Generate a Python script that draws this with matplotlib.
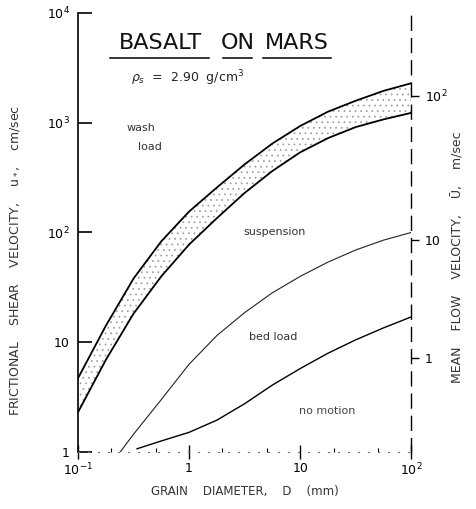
import numpy as np
import matplotlib
matplotlib.use('Agg')
import matplotlib.pyplot as plt

# grain diameter (mm) vs friction velocity (cm/sec)
wash_upper_d = [0.1, 0.178, 0.316, 0.562, 1, 1.78, 3.16, 5.62, 10, 17.8, 31.6, 56.2, 100]
wash_upper_u = [4.7, 14.1, 38, 83, 155, 257, 417, 646, 933, 1260, 1585, 1950, 2290]
wash_lower_d = [0.1, 0.178, 0.316, 0.562, 1, 1.78, 3.16, 5.62, 10, 17.8, 31.6, 56.2, 100]
wash_lower_u = [2.3, 6.9, 18.2, 39.8, 77.6, 135, 229, 363, 537, 724, 912, 1072, 1230]

susp_d = [0.24, 0.316, 0.562, 1, 1.78, 3.16, 5.62, 10, 17.8, 31.6, 56.2, 100]
susp_u = [1.0, 1.45, 3.0, 6.3, 11.5, 18.6, 28.2, 39.8, 53.7, 69.2, 85.1, 100]

bed_d = [0.34, 0.562, 1, 1.78, 3.16, 5.62, 10, 17.8, 31.6, 56.2, 100]
bed_u = [1.07, 1.26, 1.51, 1.95, 2.75, 4.07, 5.75, 7.94, 10.5, 13.5, 17.0]

# right-hand scale: mean flow velocity (m/sec) against friction velocity (cm/sec)
ustar_ref = [7.2, 85.5, 1755]
umean_ref = [1, 10, 100]

xticks = [0.1, 1, 10, 100]
xlabels = ['10$^{-1}$', '1', '10', '10$^{2}$']
yticks = [1, 10, 100, 1000, 10000]
ylabels = ['1', '10', '10$^{2}$', '10$^{3}$', '10$^{4}$']

plt.rcParams['font.family'] = ['DejaVu Sans']
plt.rcParams['hatch.linewidth'] = 0.5

fig = plt.figure(figsize=(4.77, 5.09), dpi=100)
ax = fig.add_axes([0.1635, 0.112, 0.6985, 0.8625])
ax.set_xscale('log')
ax.set_yscale('log')
ax.set_xlim(0.1, 100)
ax.set_ylim(1, 10000)

# wash load band
band_x = np.concatenate([wash_upper_d, wash_lower_d[::-1]])
band_y = np.concatenate([wash_upper_u, wash_lower_u[::-1]])
ax.fill(band_x, band_y, facecolor='none', edgecolor='#9a9a9a', hatch='...', lw=0)
ax.plot(wash_upper_d, wash_upper_u, color='black', lw=1.3)
ax.plot(wash_lower_d, wash_lower_u, color='black', lw=1.3)

ax.plot(susp_d, susp_u, color='#222222', lw=0.8)
ax.plot(bed_d, bed_u, color='black', lw=1.0)

# labels inside the plot
ax.text(0.37, 895, 'wash', fontsize=8, ha='center', va='center', color='#333333')
ax.text(0.445, 600, 'load', fontsize=8, ha='center', va='center', color='#333333')
ax.text(5.9, 100, 'suspension', fontsize=8, ha='center', va='center', color='#333333')
ax.text(5.7, 11.2, 'bed load', fontsize=8, ha='center', va='center', color='#333333')
ax.text(17.5, 2.36, 'no motion', fontsize=8, ha='center', va='center', color='#444444')

# title, word by word with underlines
for word, xc, x0, x1 in [('BASALT', 0.247, 0.096, 0.392),
                         ('ON', 0.478, 0.434, 0.521),
                         ('MARS', 0.657, 0.554, 0.759)]:
    ax.text(xc, 0.932, word, transform=ax.transAxes, fontsize=16,
            ha='center', va='center', color='#111111')
    ax.plot([x0, x1], [0.8975, 0.8975], transform=ax.transAxes, color='black', lw=1.1)
ax.text(0.16, 0.852, r'$\rho_s$  =  2.90  g/cm$^3$', transform=ax.transAxes, fontsize=9,
        ha='left', va='center', color='#222222')

# axes style
ax.set_xticks(xticks)
ax.set_xticklabels(xlabels)
ax.set_yticks(yticks)
ax.set_yticklabels(ylabels)
ax.xaxis.set_minor_locator(matplotlib.ticker.LogLocator(base=10, subs=[2, 5]))
ax.yaxis.set_minor_locator(matplotlib.ticker.NullLocator())
ax.xaxis.set_minor_formatter(matplotlib.ticker.NullFormatter())
ax.tick_params(axis='y', which='major', direction='in', length=10, width=1.2, labelsize=9, pad=6)
ax.tick_params(axis='x', which='major', direction='inout', length=10, width=1.0, labelsize=9, pad=2)
ax.tick_params(axis='x', which='minor', direction='in', length=3, width=0.8)
ax.spines['left'].set_linewidth(1.2)
ax.spines['top'].set_visible(False)
ax.spines['bottom'].set_linestyle((0, (1, 8)))
ax.spines['bottom'].set_color('#777777')
ax.spines['right'].set_linestyle((0, (10, 6)))
ax.spines['right'].set_linewidth(1.0)

# right-hand axis for mean flow velocity
lu = np.log10(ustar_ref)
lU = np.log10(umean_ref)
s0 = (lU[1] - lU[0]) / (lu[1] - lu[0])
s1 = (lU[2] - lU[1]) / (lu[2] - lu[1])
lu_ext = np.concatenate([[lu[0] - 6], lu, [lu[-1] + 6]])
lU_ext = np.concatenate([[lU[0] - 6 * s0], lU, [lU[-1] + 6 * s1]])


def to_mean(u):
    u = np.clip(np.asarray(u, dtype=float), 1e-12, None)
    return 10 ** np.interp(np.log10(u), lu_ext, lU_ext)


def to_ustar(v):
    v = np.clip(np.asarray(v, dtype=float), 1e-12, None)
    return 10 ** np.interp(np.log10(v), lU_ext, lu_ext)


sec = ax.secondary_yaxis('right', functions=(to_mean, to_ustar))
sec.set_yticks([1, 10, 100])
sec.set_yticklabels(['1', '10', '10$^{2}$'])
sec.yaxis.set_minor_locator(matplotlib.ticker.NullLocator())
sec.tick_params(axis='y', direction='out', length=6, width=1.0, labelsize=9, pad=4)
sec.spines['right'].set_visible(False)

# axis titles
fig.text(0.960, 0.495, 'MEAN    FLOW    VELOCITY,    \u016a,    m/sec', rotation=90,
         fontsize=9, color='#333333', ha='center', va='center')
fig.text(0.032, 0.489, 'FRICTIONAL    SHEAR    VELOCITY,    u$_*$,    cm/sec', rotation=90,
         fontsize=9, color='#333333', ha='center', va='center')
ax.set_xlabel('GRAIN    DIAMETER,    D    (mm)', fontsize=8.5, color='#333333', labelpad=5)

fig.savefig('out.png', dpi=100)
